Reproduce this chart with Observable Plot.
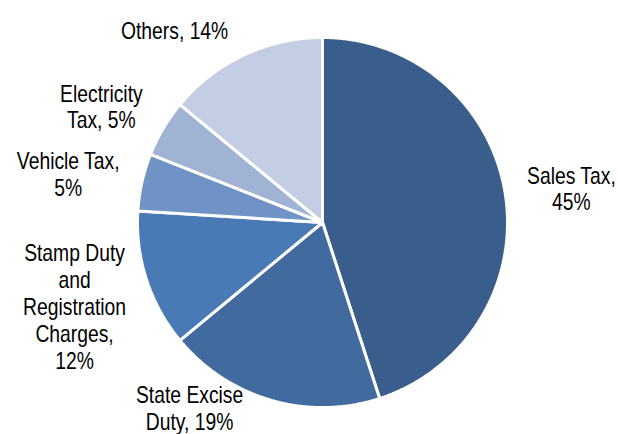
<!DOCTYPE html>
<html>
<head>
<meta charset="utf-8">
<script src="https://cdn.jsdelivr.net/npm/d3@7"></script>
<script src="https://cdn.jsdelivr.net/npm/@observablehq/plot@0.6"></script>
<style>
  html, body { margin: 0; padding: 0; background: #fff; }
  #chart svg { display: block; }
</style>
</head>
<body>
<div id="chart"></div>
<script>
// ---- Data ----
const categories = ["Sales Tax", "State Excise Duty", "Stamp Duty and Registration Charges", "Vehicle Tax", "Electricity Tax", "Others"];
const shares = [45, 19, 12, 5, 5, 14];
const labelTexts = ["Sales Tax,\n45%", "State Excise\nDuty, 19%", "Stamp Duty\nand\nRegistration\nCharges,\n12%", "Vehicle Tax,\n5%", "Electricity\nTax, 5%", "Others, 14%"];
const colors = ["#3A5E8B", "#416A9F", "#4A7AB5", "#7093C5", "#A1B3D5", "#C3CDE3"];

// ---- Label layout (angle shift in degrees, radius factor) ----
const labelLayout = [[1.2, 1.358], [19.5, 1.231], [-0.7, 1.415], [-1.7, 1.40], [-2.9, 1.35], [-12.4, 1.31]];

// ---- Build slices (clockwise from 12 o'clock) ----
const total = d3.sum(shares);
const slicePoints = [];
const labels = [];
let acc = 0;
categories.forEach((name, i) => {
  const a0 = acc / total * 2 * Math.PI;
  acc += shares[i];
  const a1 = acc / total * 2 * Math.PI;
  const n = Math.max(2, Math.ceil((a1 - a0) / (Math.PI / 360)));
  slicePoints.push({name, x: 0, y: 0});
  for (let k = 0; k <= n; k++) {
    const a = a0 + (a1 - a0) * k / n;
    slicePoints.push({name, x: Math.sin(a), y: Math.cos(a)});
  }
  slicePoints.push({name, x: 0, y: 0});
  const [shift, rf] = labelLayout[i];
  const am = (a0 + a1) / 2 + shift * Math.PI / 180;
  labels.push({text: labelTexts[i], x: rf * Math.sin(am), y: rf * Math.cos(am)});
});

const chart = Plot.plot({
  width: 618,
  height: 434,
  marginLeft: 137,
  marginRight: 111,
  marginTop: 37,
  marginBottom: 27,
  x: {domain: [-1, 1], axis: null},
  y: {domain: [-1, 1], axis: null},
  color: {domain: categories, range: colors},
  style: {fontFamily: "'Liberation Sans', Arial, sans-serif", overflow: "visible"},
  marks: [
    Plot.line(slicePoints, {x: "x", y: "y", z: "name", fill: "name", stroke: "white", strokeWidth: 3, strokeLinejoin: "miter"}),
    Plot.text(labels, {x: "x", y: "y", text: "text", fontSize: 23, lineHeight: 1.17, lineAnchor: "middle", textAnchor: "middle", fill: "#000"})
  ]
});
// condense the label glyphs horizontally (reference uses a narrow sans face)
chart.querySelectorAll("text").forEach(t => {
  const tr = t.getAttribute("transform") || "";
  t.setAttribute("transform", tr + " scale(0.84,1)");
});
document.getElementById("chart").appendChild(chart);
</script>
</body>
</html>
